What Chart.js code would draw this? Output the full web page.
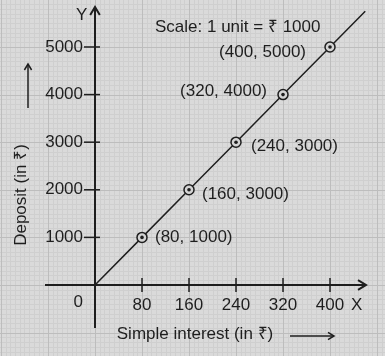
<!DOCTYPE html>
<html>
<head>
<meta charset="utf-8">
<title>Simple interest vs deposit</title>
<script src="https://cdn.jsdelivr.net/npm/chart.js@4.4.1/dist/chart.umd.min.js"></script>
<style>
  body { margin: 0; background: #dcdcdc; }
  #wrap { width: 385px; height: 356px; }
</style>
</head>
<body>
<div id="wrap"><canvas id="graph" width="385" height="356"></canvas></div>
<script>
// data
const interest = [80, 160, 240, 320, 400];
const deposit = [1000, 2000, 3000, 4000, 5000];
const pointLabels = ['(80, 1000)', '(160, 3000)', '(240, 3000)', '(320, 4000)', '(400, 5000)'];
const lineEndX = [0, 460];
const lineEndY = [0, 5750];
const xTicks = [80, 160, 240, 320, 400];
const yTicks = [1000, 2000, 3000, 4000, 5000];

const xTitle = 'Simple interest (in ₹)';
const yTitle = 'Deposit (in ₹)';
const scaleNote = 'Scale: 1 unit = ₹ 1000';

// where each point label sits relative to its point (px), and its alignment
const labelOffsets = [[13, 0, 'left'], [13, 5, 'left'], [15, 4, 'left'], [-16, -3, 'right'], [-24, 5, 'right']];

const ink = '#1e1e1e';
const font = '17px "Liberation Sans", Arial, sans-serif';

const linePoints = [{x: lineEndX[0], y: lineEndY[0]}]
    .concat(interest.map((x, i) => ({x: x, y: deposit[i]})))
    .concat([{x: lineEndX[1], y: lineEndY[1]}]);
const dots = interest.map((x, i) => ({x: x, y: deposit[i]}));

function arrowHead(ctx, x, y, dir, size){
    // open chevron, dir = 'up' or 'right'
    ctx.beginPath();
    if(dir == 'up'){
        ctx.moveTo(x - size * 0.6, y + size);
        ctx.lineTo(x, y);
        ctx.lineTo(x + size * 0.6, y + size);
    }
    else{
        ctx.moveTo(x - size, y - size * 0.6);
        ctx.lineTo(x, y);
        ctx.lineTo(x - size, y + size * 0.6);
    }
    ctx.stroke();
}

const graphPaper = {
    id: 'graphPaper',
    beforeDraw: function(chart){
        const ctx = chart.ctx;
        const xs = chart.scales.x, ys = chart.scales.y;
        ctx.save();
        ctx.fillStyle = '#dadada';
        ctx.fillRect(0, 0, chart.width, chart.height);

        // minor lines
        ctx.strokeStyle = '#cfcfcf';
        ctx.lineWidth = 1;
        for(let v = -240; v <= 560; v += 8){
            const px = Math.round(xs.getPixelForValue(v)) + 0.5;
            ctx.beginPath(); ctx.moveTo(px, 0); ctx.lineTo(px, chart.height); ctx.stroke();
        }
        for(let v = -2000; v <= 7000; v += 100){
            const py = Math.round(ys.getPixelForValue(v)) + 0.5;
            ctx.beginPath(); ctx.moveTo(0, py); ctx.lineTo(chart.width, py); ctx.stroke();
        }
        // major lines
        ctx.strokeStyle = '#bdbdbd';
        for(let v = -240; v <= 560; v += 80){
            const px = Math.round(xs.getPixelForValue(v)) + 0.5;
            ctx.beginPath(); ctx.moveTo(px, 0); ctx.lineTo(px, chart.height); ctx.stroke();
        }
        for(let v = -2000; v <= 7000; v += 1000){
            const py = Math.round(ys.getPixelForValue(v)) + 0.5;
            ctx.beginPath(); ctx.moveTo(0, py); ctx.lineTo(chart.width, py); ctx.stroke();
        }
        ctx.restore();
    },
    afterDatasetsDraw: function(chart){
        const ctx = chart.ctx;
        const xs = chart.scales.x, ys = chart.scales.y;
        const ox = xs.getPixelForValue(0), oy = ys.getPixelForValue(0);
        ctx.save();
        ctx.strokeStyle = ink;
        ctx.fillStyle = ink;
        ctx.lineWidth = 2;

        // axes
        ctx.beginPath();
        ctx.moveTo(45, oy); ctx.lineTo(366, oy);
        ctx.moveTo(ox, 328); ctx.lineTo(ox, 7);
        ctx.stroke();
        arrowHead(ctx, 366, oy, 'right', 8);
        arrowHead(ctx, ox, 7, 'up', 8);

        // tick marks crossing the axes
        ctx.lineWidth = 1.5;
        xTicks.forEach(v => {
            const px = xs.getPixelForValue(v);
            ctx.beginPath(); ctx.moveTo(px, oy - 7); ctx.lineTo(px, oy + 7); ctx.stroke();
        });
        yTicks.forEach(v => {
            const py = ys.getPixelForValue(v);
            ctx.beginPath(); ctx.moveTo(ox - 11, py); ctx.lineTo(ox + 5, py); ctx.stroke();
        });

        ctx.font = font;
        ctx.textBaseline = 'middle';

        // tick labels
        ctx.textAlign = 'center';
        xTicks.forEach(v => ctx.fillText(String(v), xs.getPixelForValue(v), oy + 20));
        ctx.textAlign = 'right';
        yTicks.forEach(v => ctx.fillText(String(v), ox - 12, ys.getPixelForValue(v)));
        ctx.fillText('0', ox - 12, oy + 17);
        ctx.textAlign = 'left';
        ctx.fillText('X', 351, oy + 20);
        ctx.fillText('Y', ox - 19, 15);

        // point labels
        interest.forEach((x, i) => {
            const off = labelOffsets[i];
            ctx.textAlign = off[2];
            ctx.fillText(pointLabels[i], xs.getPixelForValue(x) + off[0], ys.getPixelForValue(deposit[i]) + off[1]);
        });

        // scale note
        ctx.textAlign = 'left';
        ctx.fillText(scaleNote, 155, 27);

        // x title and arrow
        ctx.textAlign = 'center';
        ctx.fillText(xTitle, 195, 334);
        ctx.lineWidth = 1.5;
        ctx.beginPath(); ctx.moveTo(290, 336); ctx.lineTo(334, 336); ctx.stroke();
        arrowHead(ctx, 334, 336, 'right', 6);

        // y title and arrow
        ctx.save();
        ctx.translate(21, 195);
        ctx.rotate(-Math.PI / 2);
        ctx.fillText(yTitle, 0, 0);
        ctx.restore();
        ctx.beginPath(); ctx.moveTo(28, 108); ctx.lineTo(28, 64); ctx.stroke();
        arrowHead(ctx, 28, 64, 'up', 6);

        ctx.restore();
    }
};

new Chart(document.getElementById('graph').getContext('2d'), {
    type: 'scatter',
    data: {
        datasets: [{
            type: 'line',
            data: linePoints,
            borderColor: ink,
            borderWidth: 1.5,
            pointRadius: 0,
            tension: 0,
            order: 3
        },
        {
            data: dots,
            pointRadius: 5,
            pointBorderWidth: 1.5,
            pointBorderColor: ink,
            pointBackgroundColor: '#d4d4d4',
            order: 2
        },
        {
            data: dots,
            pointRadius: 1.8,
            pointBorderWidth: 0,
            pointBackgroundColor: ink,
            order: 1
        }]
    },
    options: {
        responsive: false,
        animation: false,
        layout: { padding: 0, autoPadding: false },
        events: [],
        plugins: { legend: { display: false }, tooltip: { enabled: false } },
        scales: {
            x: { type: 'linear', display: false, min: -161.7, max: 493.6 },
            y: { type: 'linear', display: false, min: -1492, max: 5987 }
        }
    },
    plugins: [graphPaper]
});
</script>
</body>
</html>
